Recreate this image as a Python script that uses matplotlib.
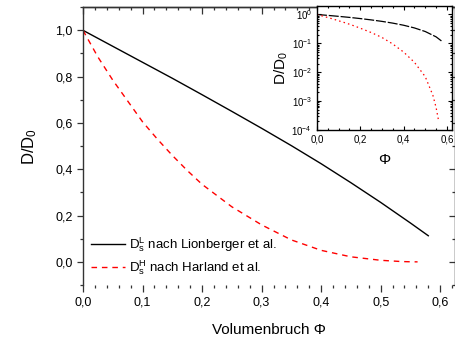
import matplotlib
matplotlib.use("Agg")
import matplotlib.pyplot as plt
from matplotlib.ticker import MultipleLocator, FuncFormatter, LogLocator, NullFormatter

plt.rcParams['font.family'] = ['Liberation Sans', 'DejaVu Sans']
plt.rcParams['mathtext.default'] = 'regular'

# data
phi_lion = [0.0, 0.05, 0.1, 0.15, 0.2, 0.25, 0.3, 0.35, 0.4, 0.45, 0.5, 0.55, 0.58]
d_lion = [1.0, 0.931, 0.862, 0.793, 0.722, 0.65, 0.577, 0.502, 0.424, 0.342, 0.257, 0.168, 0.113]

phi_harl = [0.0, 0.025, 0.05, 0.075, 0.1, 0.125, 0.15, 0.175, 0.2, 0.25, 0.3, 0.35,
            0.4, 0.45, 0.5, 0.535, 0.55, 0.562]
d_harl = [1.0, 0.885, 0.785, 0.695, 0.605, 0.53, 0.46, 0.395, 0.335, 0.238, 0.16, 0.095,
          0.05, 0.022, 0.007, 0.0016, 0.0006, 0.0002]

label_lion = "$D_s^L$ nach Lionberger et al."
label_harl = "$D_s^H$ nach Harland et al."


def comma(val, pos):
    return ("%.1f" % val).replace(".", ",")


fig = plt.figure(figsize=(4.56, 3.41), dpi=100)
ax = fig.add_axes([0.182, 0.164, 0.816, 0.815])

ax.plot(phi_lion, d_lion, "-", color="black", lw=1.0, label=label_lion)
ax.plot(phi_harl, d_harl, "--", color="red", lw=1.0, dashes=(4, 3.5), label=label_harl)

ax.set_xlim(0, 0.625)
ax.set_ylim(-0.1, 1.1)
ax.xaxis.set_major_locator(MultipleLocator(0.1))
ax.xaxis.set_minor_locator(MultipleLocator(0.02))
ax.yaxis.set_major_locator(MultipleLocator(0.2))
ax.yaxis.set_minor_locator(MultipleLocator(0.1))
ax.xaxis.set_major_formatter(FuncFormatter(comma))
ax.yaxis.set_major_formatter(FuncFormatter(comma))
ax.spines['bottom'].set_visible(False)
ax.tick_params(axis='both', which='both', labelsize=9, width=0.9, color='#333333',
               direction='out')
ax.tick_params(axis='x', which='major', length=5)
ax.tick_params(axis='x', which='minor', length=2)
ax.tick_params(axis='y', which='major', length=4)
ax.tick_params(axis='y', which='minor', length=2)
for s in ax.spines.values():
    s.set_linewidth(1.0)
    s.set_color('#333333')

# inward ticks on top and right
top = ax.secondary_xaxis('top')
top.xaxis.set_major_locator(MultipleLocator(0.1))
top.xaxis.set_minor_locator(MultipleLocator(0.02))
top.xaxis.set_major_formatter(NullFormatter())
top.tick_params(which='both', direction='in', width=0.9, color='#333333')
top.tick_params(which='major', length=5)
top.tick_params(which='minor', length=2.5)
top.spines['top'].set_linewidth(1.0)
top.spines['top'].set_color('#333333')

right = ax.secondary_yaxis('right')
right.yaxis.set_major_locator(MultipleLocator(0.2))
right.yaxis.set_minor_locator(MultipleLocator(0.1))
right.yaxis.set_major_formatter(NullFormatter())
right.tick_params(which='both', direction='in', width=0.9, color='#333333')
right.tick_params(which='major', length=4)
right.tick_params(which='minor', length=2)

ax.set_xlabel("Volumenbruch \u03a6", fontsize=11, labelpad=10)
ax.set_ylabel("D/D$_0$", fontsize=12, labelpad=12)

ax.legend(loc="lower left", bbox_to_anchor=(0.0, 0.0), frameon=False,
          fontsize=9.5, handlelength=2.6, handletextpad=0.3, labelspacing=0.35,
          borderaxespad=0.2)

# inset with log scale
ins = fig.add_axes([0.695, 0.619, 0.296, 0.364])
ins.plot(phi_lion, d_lion, color="black", lw=0.9, dashes=(8, 1.5))
ins.plot(phi_harl, d_harl, color="red", lw=0.9, dashes=(1.2, 2.5))
ins.set_yscale("log")
ins.set_xlim(0, 0.623)
ins.set_ylim(1e-4, 2.0)
ins.xaxis.set_major_locator(MultipleLocator(0.2))
ins.xaxis.set_minor_locator(MultipleLocator(0.05))
ins.xaxis.set_major_formatter(FuncFormatter(comma))
ins.yaxis.set_major_locator(LogLocator(base=10, numticks=10))
ins.tick_params(axis='both', which='both', direction='in', labelsize=7,
                top=True, right=True, width=0.8)
ins.tick_params(which='major', length=3)
ins.tick_params(which='minor', length=1.5)
for s in ins.spines.values():
    s.set_linewidth(1.0)
ins.set_xlabel("\u03a6", fontsize=11, labelpad=6)
ins.set_ylabel("D/D$_0$", fontsize=11, labelpad=1)

fig.savefig("out.png", dpi=100)
